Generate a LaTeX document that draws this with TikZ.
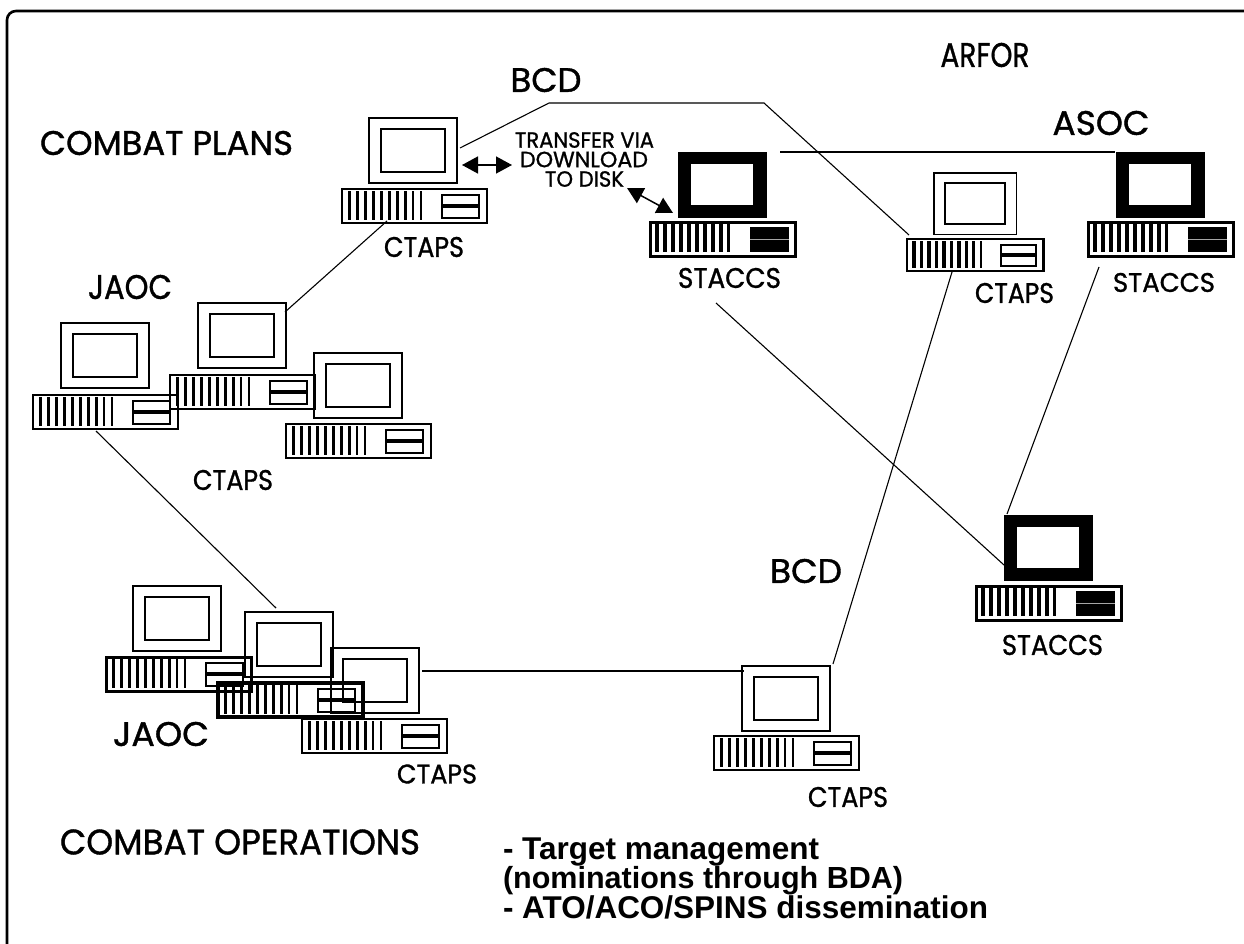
\documentclass[tikz,border=0pt]{standalone}
\usepackage{fontspec}
\usepackage{graphicx}
\setmainfont[FakeBold=1.1]{Poppins}
\newfontfamily\arialfont{Liberation Sans}
\usetikzlibrary{arrows.meta}
\tikzset{
  screen/.style={draw=black,rectangle,inner sep=0pt,outer sep=0pt,anchor=north west},
  caselabel/.style={inner sep=0pt,outer sep=0pt,anchor=center},
  link/.style={draw=black,line width=1.1bp},
  heavylink/.style={draw=black,line width=2.2bp},
  diskarrow/.style={draw=black,line width=1.5bp,{Triangle[length=16bp,width=17bp]}-{Triangle[length=16bp,width=17bp]},shorten >=0pt,shorten <=0pt},
  noteline/.style={inner sep=0pt,outer sep=0pt,anchor=base west},
}
% name, monitor x,y, base x,y, scale, outer lw, inner lw, base lw
\newcommand{\pcunit}[9]{%
  \pgfmathsetmacro{\mw}{88*#6}\pgfmathsetmacro{\mh}{65*#6}%
  \pgfmathsetmacro{\iw}{64*#6}\pgfmathsetmacro{\ih}{43*#6}%
  \pgfmathsetmacro{\bw}{145*#6}\pgfmathsetmacro{\bh}{34*#6}%
  \node[screen,line width=#7bp,minimum width=\mw bp,minimum height=\mh bp] (#1-mon) at (#2,#3) {};
  \node[screen,line width=#8bp,minimum width=\iw bp,minimum height=\ih bp] (#1-in) at (#2+12*#6,#3+11*#6) {};
  \node[screen,line width=#9bp,minimum width=\bw bp,minimum height=\bh bp] (#1-base) at (#4,#5) {};
  \foreach \i/\t in {0/3.6,1/3.6,2/3.8,3/3.8,4/3.8,5/3.8,6/3.6,7/3.4,8/2.8,9/2.6}{
    \fill[black] ({#4+(5.5+8*\i)*#6},{#5+2}) rectangle ++(\t*#6,{\bh-5});
  }
  \draw[line width=#9*0.7bp] ({#4+100*#6},{#5+6*#6}) rectangle ({#4+137*#6},{#5+16*#6});
  \draw[line width=#9*0.7bp] ({#4+100*#6},{#5+18*#6}) rectangle ({#4+137*#6},{#5+29*#6});
}
% name, monitor x,y, base x,y
\newcommand{\staccsunit}[5]{%
  \node[screen,fill=black,line width=0.5bp,minimum width=88bp,minimum height=65bp] (#1-mon) at (#2,#3) {};
  \node[screen,fill=white,draw=none,minimum width=62bp,minimum height=41bp] (#1-in) at (#2+13,#3+12) {};
  \node[screen,line width=3bp,minimum width=145bp,minimum height=34bp] (#1-base) at (#4,#5) {};
  \foreach \i/\t in {0/4.4,1/4.4,2/4.4,3/4.4,4/4.4,5/4.4,6/4.4,7/4.4,8/3.6,9/3}{
    \fill[black] ({#4+5+8*\i},{#5+1}) rectangle ++(\t,29);
  }
  \fill[black] ({#4+100},{#5+5}) rectangle ({#4+139},{#5+30});
  \draw[white!65!black,line width=1bp] ({#4+100},{#5+17.5}) -- ({#4+139},{#5+17.5});
}
% name, centre x,y, width, height, text
\newcommand{\plainlabel}[6]{%
  \node[caselabel] (#1) at (#2,#3) {\resizebox{#4bp}{#5bp}{#6}};
}
\begin{document}
\begin{tikzpicture}[x=1bp,y=-1bp]
\useasboundingbox (0,0) rectangle (1244,944);
\coordinate (frameA) at (7,945);
\coordinate (frameB) at (7,11);
\coordinate (frameC) at (1245,11);
\draw[black,line width=2.6bp,rounded corners=9bp] (frameA) -- (frameB) -- (frameC);

\pcunit{plans}{369}{118}{342}{189}{1}{2}{1.8}{2.6}
\staccsunit{sone}{678}{152}{650}{222}
\pcunit{arfor}{934}{173}{907}{239}{0.94}{1.2}{2}{2.8}
\staccsunit{stwo}{1116}{152}{1088}{222}
\staccsunit{sthree}{1004}{515}{976}{586}
\pcunit{field}{742}{666}{714}{736}{1}{1.2}{1.4}{2.6}
\pcunit{jone}{61}{323}{33}{395}{1}{2.4}{2.4}{2.8}
\pcunit{jtwo}{198}{303}{170}{375}{1}{2}{1.5}{2.8}
\pcunit{jthree}{314}{353}{286}{424}{1}{2.4}{2.4}{2.8}
\pcunit{pone}{133}{586}{106}{657}{1}{2}{2.4}{3}
\pcunit{ptwo}{245}{612}{218}{683}{1}{2.8}{2.4}{3.8}
\pcunit{pthree}{331}{648}{302}{719}{1}{1.8}{1.5}{2.6}

\coordinate (a1) at (460,148);
\coordinate (a2) at (549,103);
\coordinate (a3) at (764,103);
\coordinate (a4) at (909,235);
\coordinate (b1) at (780,152);
\coordinate (b2) at (1115,152);
\coordinate (c1) at (387,221);
\coordinate (c2) at (285,312);
\coordinate (d1) at (96,431);
\coordinate (d2) at (276,608);
\coordinate (e1) at (422,671);
\coordinate (e2) at (744,671);
\coordinate (f1) at (952,272);
\coordinate (f2) at (833,664);
\coordinate (g1) at (1099,267);
\coordinate (g2) at (1007,514);
\coordinate (h1) at (716,303);
\coordinate (h2) at (1004,565);
\coordinate (t1) at (462,165);
\coordinate (t2) at (512,165);
\coordinate (u1) at (627,188);
\coordinate (u2) at (673,213);
\draw[link] (a1) -- (a2) -- (a3) -- (a4);
\draw[heavylink] (b1) -- (b2);
\draw[link] (c1) -- (c2);
\draw[link] (d1) -- (d2);
\draw[heavylink] (e1) -- (e2);
\draw[link] (f1) -- (f2);
\draw[link] (g1) -- (g2);
\draw[link] (h1) -- (h2);
\draw[diskarrow] (t1) -- (t2);
\draw[diskarrow] (u1) -- (u2);

\plainlabel{lplans}{166.5}{143}{253}{24}{COMBAT PLANS}
\plainlabel{lbcdt}{546}{80}{71}{24}{BCD}
\plainlabel{larfor}{985}{55}{89}{24}{ARFOR}
\plainlabel{lasoc}{1101}{123}{97}{24}{ASOC}
\plainlabel{ljaoct}{130}{287}{84}{24}{JAOC}
\plainlabel{ljaocb}{161}{734}{96}{24}{JAOC}
\plainlabel{lbcdb}{806}{571}{72}{24}{BCD}
\plainlabel{lops}{240}{842}{360}{25}{COMBAT OPERATIONS}
\plainlabel{lc1}{424}{247}{80}{20}{CTAPS}
\plainlabel{ls1}{729.5}{278}{103}{20}{STACCS}
\plainlabel{lc2}{1014.5}{293}{79}{20}{CTAPS}
\plainlabel{ls2}{1164}{282.5}{102}{19}{STACCS}
\plainlabel{ls3}{1052.5}{645}{101}{20}{STACCS}
\plainlabel{lc3}{848}{797}{80}{20}{CTAPS}
\plainlabel{lc4}{233}{480}{80}{20}{CTAPS}
\plainlabel{lc5}{437}{774}{80}{19}{CTAPS}
\plainlabel{ltr1}{584.5}{140}{139}{15.5}{TRANSFER VIA}
\plainlabel{ltr2}{584}{159.5}{128}{15.5}{DOWNLOAD}
\plainlabel{ltr3}{584.5}{179}{79}{15.5}{TO DISK}

\node[noteline] (n1) at (503,859) {\resizebox{316bp}{!}{\arialfont\bfseries - Target management}};
\node[noteline] (n2) at (503,888.5) {\resizebox{400bp}{!}{\arialfont\bfseries (nominations through BDA)}};
\node[noteline] (n3) at (503,918) {\resizebox{485bp}{!}{\arialfont\bfseries - ATO/ACO/SPINS dissemination}};
\end{tikzpicture}
\end{document}
